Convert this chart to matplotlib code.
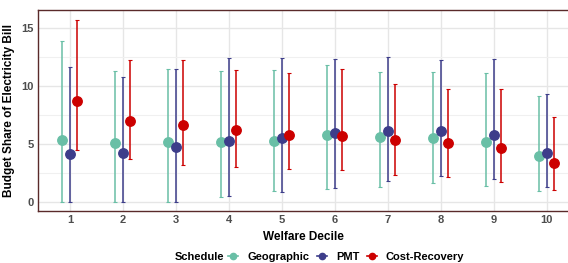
import numpy as np
import matplotlib.pyplot as plt
from matplotlib.lines import Line2D

plt.rcParams['font.family'] = ['Liberation Sans', 'DejaVu Sans']

deciles = [1, 2, 3, 4, 5, 6, 7, 8, 9, 10]
schedules = ["Geographic", "PMT", "Cost-Recovery"]

geo_mid = [5.35, 5.05, 5.15, 5.15, 5.29, 5.78, 5.57, 5.52, 5.17, 4.00]
geo_lo = [0.0, 0.0, 0.0, 0.40, 0.95, 1.09, 1.32, 1.61, 1.41, 0.98]
geo_hi = [13.9, 11.3, 11.5, 11.26, 11.35, 11.78, 11.2, 11.24, 11.09, 9.11]

pmt_mid = [4.17, 4.25, 4.77, 5.29, 5.49, 5.92, 6.09, 6.15, 5.78, 4.20]
pmt_lo = [0.0, 0.0, 0.0, 0.55, 0.89, 1.18, 1.81, 2.21, 1.98, 1.29]
pmt_hi = [11.67, 10.75, 11.5, 12.4, 12.38, 12.3, 12.53, 12.2, 12.33, 9.28]

cr_mid = [8.70, 7.00, 6.65, 6.20, 5.80, 5.72, 5.32, 5.06, 4.62, 3.34]
cr_lo = [4.45, 3.70, 3.20, 3.00, 2.84, 2.76, 2.36, 2.16, 1.72, 1.03]
cr_hi = [15.7, 12.2, 12.2, 11.35, 11.09, 11.5, 10.2, 9.74, 9.77, 7.3]

colors = ["#69bfa6", "#3d3d8a", "#cc0000"]
series = [(geo_mid, geo_lo, geo_hi), (pmt_mid, pmt_lo, pmt_hi), (cr_mid, cr_lo, cr_hi)]
offsets = [-0.14, 0.0, 0.14]

fig = plt.figure(figsize=(5.68, 2.63), dpi=100)
ax = fig.add_axes([0.067, 0.198, 0.933, 0.764])

x = np.array(deciles, dtype=float)
for (mid, lo, hi), col, off in zip(series, colors, offsets):
    mid = np.array(mid)
    err = [mid - np.array(lo), np.array(hi) - mid]
    ax.errorbar(x + off, mid, yerr=err, fmt='o', color=col, ecolor=col,
                elinewidth=1.1, capsize=1.5, capthick=0.8, markersize=6.8, zorder=3)

# panel runs off the right edge of the image, so no right border
ax.set_xlim(0.4, 10.4)
ax.set_ylim(-0.78, 16.55)
ax.set_xticks(deciles)
ax.set_yticks([0, 5, 10, 15])
ax.set_yticks([2.5, 7.5, 12.5], minor=True)
ax.grid(True, which='major', color='#e6e6e6', linewidth=1.0)
ax.grid(True, which='minor', axis='y', color='#f0f0f0', linewidth=0.8)
ax.set_axisbelow(True)
for s in ax.spines.values():
    s.set_color('#5a2a2a')
    s.set_linewidth(1.0)
ax.spines['right'].set_visible(False)
ax.tick_params(axis='both', which='both', length=0, labelsize=8, labelcolor='#4d4d4d', pad=3)
for lab in ax.get_xticklabels() + ax.get_yticklabels():
    lab.set_fontweight('bold')
ax.set_ylabel("Budget Share of Electricity Bill", fontsize=8.5, fontweight='bold', labelpad=5)
ax.set_xlabel("Welfare Decile", fontsize=8.5, fontweight='bold', labelpad=4)

handles = [Line2D([0], [0], color=c, marker='o', markersize=4.5, linewidth=1.2) for c in colors]
fig.text(0.308, 0.022, "Schedule", fontsize=8, fontweight='bold', ha='left', va='center')
leg = fig.legend(handles, schedules, loc='center left', bbox_to_anchor=(0.402, 0.022), ncol=3,
                 frameon=False, borderpad=0, borderaxespad=0, handlelength=0.9,
                 handletextpad=0.8, columnspacing=0.7, prop={'size': 8, 'weight': 'bold'})

fig.savefig("out.png", dpi=100)
